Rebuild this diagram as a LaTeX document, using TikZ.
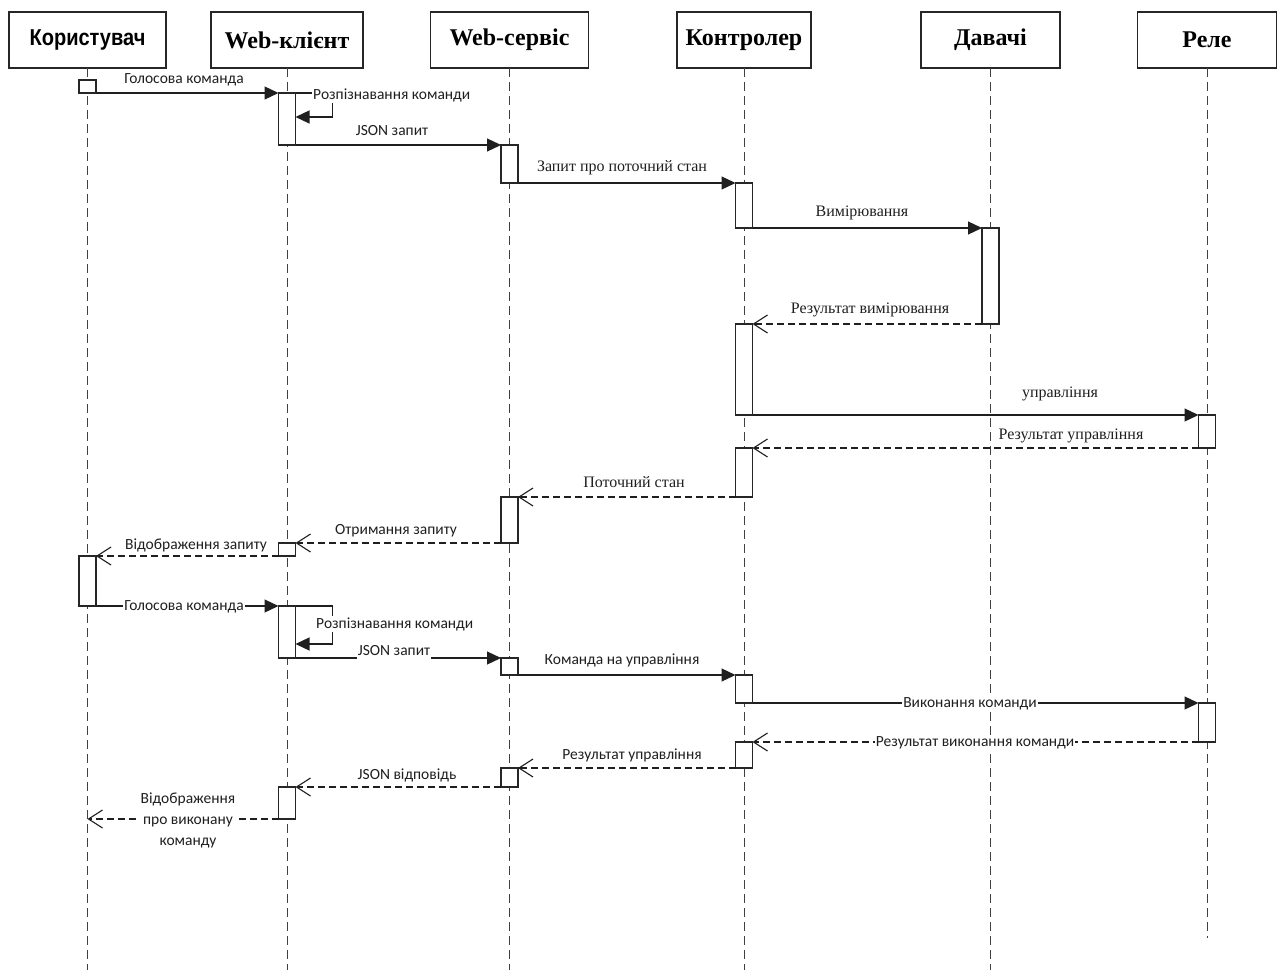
\documentclass[tikz,border=0pt]{standalone}
\usepackage{fontspec}
\setmainfont{Liberation Serif}
\newfontfamily\headsans[FakeStretch=0.87]{Liberation Sans}
\newfontfamily\msgsans{Carlito}
\usetikzlibrary{arrows.meta}

\tikzset{
  head/.style={draw=black!85, line width=1.2pt, minimum height=56pt, inner sep=0pt, outer sep=0pt,
    font=\bfseries\fontsize{24}{28}\selectfont},
  lifeline/.style={draw=black!75, line width=1pt, dash pattern=on 9pt off 5pt},
  actbox/.style={draw=black!85, fill=white, line width=1.2pt, minimum width=17pt, inner sep=0pt, outer sep=0pt},
  call/.style={draw=black!88, line width=1.2pt, -{Triangle[length=14pt,width=13pt]}},
  reply/.style={draw=black!88, line width=1.2pt, dash pattern=on 7pt off 4pt,
    -{Straight Barb[length=14pt,width=18pt,line width=1.1pt]}},
  msg/.style={font=\msgsans\fontsize{15.5}{19}\selectfont, text=black!88, inner sep=1pt},
  msgserif/.style={font=\fontsize{16}{19}\selectfont, text=black!88, inner sep=1pt},
  cover/.style={fill=white}
}

% activation bar: name, lifeline x, top y, bottom y
\newcommand\actbar[4]{\node[actbox, anchor=north, minimum height={(#4)-(#3)}] (#1) at (#2,#3) {};}

\def\xU{87.5}
\def\xW{287}
\def\xS{509.5}
\def\xC{744}
\def\xD{990.5}
\def\xR{1207}

\begin{document}
\begin{tikzpicture}[x=1pt,y=-1pt]
\path[fill=white,use as bounding box] (0,0) rectangle (1281,976);

% participants
\node[head, minimum width=157pt, font=\headsans\bfseries\fontsize{23}{26}\selectfont] (hU) at (\xU,40) {Користувач};
\node[head, minimum width=152pt] (hW) at (\xW,40) {Web-клієнт};
\node[head, minimum width=158pt] (hS) at (\xS,40) {Web-сервіс};
\node[head, minimum width=134pt] (hC) at (\xC,40) {Контролер};
\node[head, minimum width=139pt] (hD) at (\xD,40) {Давачі};
\node[head, minimum width=139pt] (hR) at (\xR,40) {Реле};

% lifelines
\coordinate (base) at (0,970);
\coordinate (baseR) at (0,938);
\draw[lifeline] (hU.south) -- (hU.south |- base);
\draw[lifeline] (hW.south) -- (hW.south |- base);
\draw[lifeline] (hS.south) -- (hS.south |- base);
\draw[lifeline] (hC.south) -- (hC.south |- base);
\draw[lifeline] (hD.south) -- (hD.south |- base);
\draw[lifeline] (hR.south) -- (hR.south |- baseR);

% activation bars
\actbar{u1}{\xU}{80}{93}
\actbar{u2}{\xU}{556}{606}
\actbar{w1}{\xW}{93}{145}
\actbar{w2}{\xW}{543}{556}
\actbar{w3}{\xW}{606}{658}
\actbar{w4}{\xW}{787}{819}
\actbar{s1}{\xS}{145}{183}
\actbar{s2}{\xS}{497}{543}
\actbar{s3}{\xS}{658}{675}
\actbar{s4}{\xS}{768}{787}
\actbar{c1}{\xC}{183}{228}
\actbar{c2}{\xC}{324}{415}
\actbar{c3}{\xC}{448}{497}
\actbar{c4}{\xC}{675}{703}
\actbar{c5}{\xC}{742}{768}
\actbar{d1}{\xD}{228}{324}
\actbar{r1}{\xR}{415}{448}
\actbar{r2}{\xR}{703}{742}

% messages
\draw[call] (u1.south east) -- (w1.north west);
\draw[call] (w1.north east) -- ++(37,0) -- ++(0,24) -- ++(-37,0);
\draw[call] (w1.south east) -- (s1.north west);
\draw[call] (s1.south east) -- (c1.north west);
\draw[call] (c1.south east) -- (d1.north west);
\draw[reply] (d1.south west) -- (c2.north east);
\draw[call] (c2.south east) -- (r1.north west);
\draw[reply] (r1.south west) -- (c3.north east);
\draw[reply] (c3.south west) -- (s2.north east);
\draw[reply] (s2.south west) -- (w2.north east);
\draw[reply] (w2.south west) -- (u2.north east);
\draw[call] (u2.south east) -- (w3.north west);
\draw[call] (w3.north east) -- ++(37,0) -- ++(0,38) -- ++(-37,0);
\draw[call] (w3.south east) -- (s3.north west);
\draw[call] (s3.south east) -- (c4.north west);
\draw[call] (c4.south east) -- (r2.north west);
\draw[reply] (r2.south west) -- (c5.north east);
\draw[reply] (c5.south west) -- (s4.north east);
\draw[reply] (s4.south west) -- (w4.north east);
\draw[reply] (w4.south west) -- (w4.south west -| hU.south);

% message labels
\node[msg] (m1) at (184,80) {Голосова команда};
\node[msg, cover, anchor=west] (m2) at (312,95) {Розпізнавання команди};
\node[msg] (m3) at (392,131) {JSON запит};
\node[msgserif] (m4) at (622,168) {Запит про поточний стан};
\node[msgserif] (m5) at (862,213) {Вимірювання};
\node[msgserif] (m6) at (870,310) {Результат вимірювання};
\node[msgserif] (m7) at (1060,394) {управління};
\node[msgserif] (m8) at (1071,436) {Результат управління};
\node[msgserif] (m9) at (634,482) {Поточний стан};
\node[msg] (m10) at (396,531) {Отримання запиту};
\node[msg] (m11) at (196,545) {Відображення запиту};
\node[msg, cover] (m12) at (184,607) {Голосова команда};
\node[msg, cover, anchor=west] (m13) at (315,624) {Розпізнавання команди};
\node[msg, cover, inner ysep=5pt] (m14) at (394,651) {JSON запит};
\node[msg] (m15) at (622,660) {Команда на управління};
\node[msg, cover] (m16) at (970,704) {Виконання команди};
\node[msg, cover] (m17) at (975,743) {Результат виконання команди};
\node[msg] (m18) at (632,755) {Результат управління};
\node[msg] (m19) at (407,775) {JSON відповідь};
\node[msg, cover, align=center, font=\msgsans\fontsize{15.5}{21}\selectfont] (m20) at (188,820)
  {Відображення\\про виконану\\команду};
\end{tikzpicture}
\end{document}
